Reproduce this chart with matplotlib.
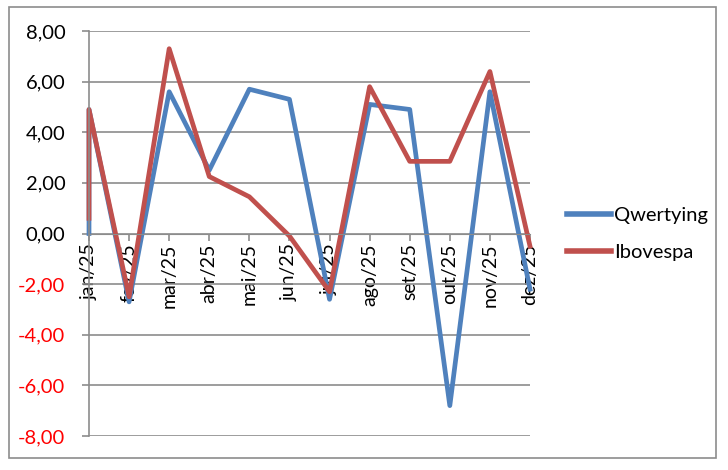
import matplotlib.pyplot as plt
from matplotlib.patches import Rectangle

plt.rcParams['font.family'] = ['Lato', 'DejaVu Sans']

months = ['jan/25', 'fev/25', 'mar/25', 'abr/25', 'mai/25', 'jun/25',
          'jul/25', 'ago/25', 'set/25', 'out/25', 'nov/25', 'dez/25']
# first point of each series sits in jan too (date axis)
qwertying_start = 0.0
qwertying = [4.9, -2.7, 5.6, 2.5, 5.7, 5.3, -2.6, 5.1, 4.9, -6.8, 5.6, -2.2]
ibovespa_start = 0.6
ibovespa = [4.9, -2.5, 7.3, 2.25, 1.45, -0.1, -2.3, 5.8, 2.85, 2.85, 6.4, -0.5]
yticks = [-8, -6, -4, -2, 0, 2, 4, 6, 8]

blue = '#4F81BD'
red = '#C0504D'
grid_c = '#8C8C8C'

fig = plt.figure(figsize=(7.28, 4.70), dpi=100)
ax = fig.add_axes([89/728, 1 - 436/470, (530 - 89)/728, (436 - 31)/470])

# axis setup first: moving the spine resets the tick labels
ax.spines['bottom'].set_position(('data', 0))
ax.spines['bottom'].set_color(grid_c)
ax.spines['left'].set_color(grid_c)
ax.spines['left'].set_linewidth(1.2)
ax.spines['top'].set_visible(False)
ax.spines['right'].set_visible(False)
ax.tick_params(axis='both', color=grid_c, length=5, width=1.2, direction='out')
ax.tick_params(axis='x', pad=2)
ax.tick_params(axis='y', pad=12)

x = [0] + list(range(len(months)))
ax.plot(x, [qwertying_start] + qwertying, color=blue, lw=3.4, label='Qwertying',
        clip_on=False)
ax.plot(x, [ibovespa_start] + ibovespa, color=red, lw=3.4, label='Ibovespa',
        clip_on=False)

ax.set_xlim(0, len(months) - 1)
ax.set_ylim(-8, 8)
ax.set_yticks(yticks)
ax.set_yticklabels([f'{v:.2f}'.replace('.', ',') for v in yticks], fontsize=14.5)
for lab, v in zip(ax.get_yticklabels(), yticks):
    lab.set_color('red' if v < 0 else 'black')
ax.yaxis.grid(True, color=grid_c, lw=1.2)
ax.set_axisbelow(True)

ax.set_xticks(range(len(months)))
ax.set_xticklabels(months, rotation=90, fontsize=14, va='top', ha='center',
                   color='black')

leg = fig.legend(loc='center left', bbox_to_anchor=(549/728, 1 - 234/470),
                 frameon=False, fontsize=14.5, handlelength=2.2, handletextpad=0.15,
                 labelspacing=1.0)
for line in leg.get_lines():
    line.set_linewidth(4)

fig.patches.append(Rectangle((9/728, 1 - 458/470), (716 - 9)/728, (458 - 7)/470,
                             transform=fig.transFigure, fill=False,
                             edgecolor='#8C8C8C', lw=1.2))

fig.savefig('out.png', dpi=100)
